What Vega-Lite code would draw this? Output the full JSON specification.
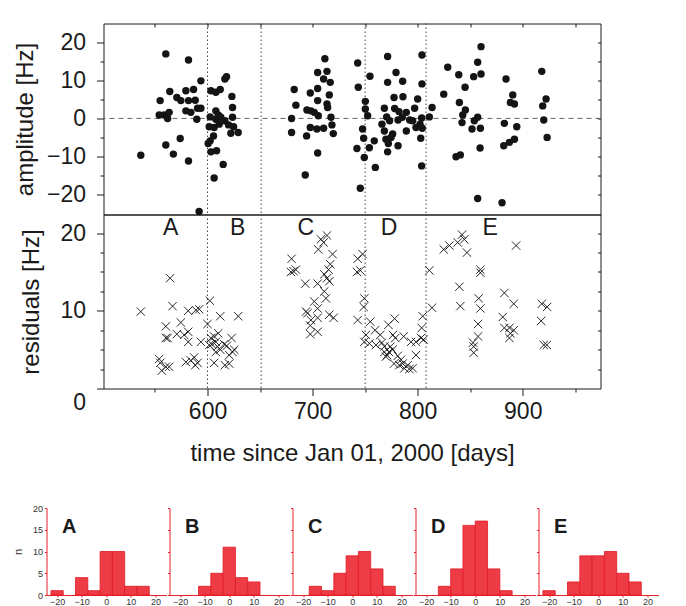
{
"$schema": "https://vega.github.io/schema/vega-lite/v6.json",
"padding": {"left": 11.5, "top": 22.5, "right": 2, "bottom": 0},
"background": "white",
"config": {
  "font": "Liberation Sans",
  "view": {"stroke": null},
  "axis": {"grid": false, "labelFont": "Liberation Sans", "titleFont": "Liberation Sans", "titleFontWeight": "normal", "labelColor": "#1a1a1a", "titleColor": "#1a1a1a", "domainColor": "#1a1a1a", "tickColor": "#1a1a1a", "labelOverlap": false, "labelFlush": false, "labelBound": false}
},
"datasets": {
  "bounds": [{"day": 600}, {"day": 651}, {"day": 750}, {"day": 808}],
  "zones": [{"label": "A", "day": 565, "res": 19.8}, {"label": "B", "day": 628.6, "res": 19.8}, {"label": "C", "day": 693.6, "res": 19.8}, {"label": "D", "day": 772.7, "res": 19.8}, {"label": "E", "day": 869, "res": 19.8}],
  "amp": [
{"day":536.5,"amp":-9.7},{"day":560.3,"amp":17.0},{"day":581.9,"amp":15.4},{"day":564.1,"amp":7.1},{"day":554.9,"amp":4.7},{"day":554,"amp":0.9},{"day":558.7,"amp":0.9},{"day":563.5,"amp":1.6},{"day":562,"amp":0},{"day":570.8,"amp":5.5},{"day":574.6,"amp":4.7},{"day":579.4,"amp":7.3},{"day":586.7,"amp":7.6},{"day":581.9,"amp":4.7},{"day":588.3,"amp":4.8},{"day":579.4,"amp":2.0},{"day":584.1,"amp":1.6},{"day":590.5,"amp":2.7},{"day":593.7,"amp":2.7},{"day":589.8,"amp":-0.2},{"day":593.7,"amp":9.9},{"day":560.3,"amp":-7.0},{"day":574,"amp":-5.3},{"day":567.5,"amp":-9.4},{"day":581.9,"amp":-11.2},{"day":592,"amp":-24.5},
{"day":603.2,"amp":7.3},{"day":607.9,"amp":6.9},{"day":612.1,"amp":7.6},{"day":616.5,"amp":10.4},{"day":618.1,"amp":11.0},{"day":623.2,"amp":5.8},{"day":623.8,"amp":2.9},{"day":607.9,"amp":2.0},{"day":610.2,"amp":0.9},{"day":612.7,"amp":0.3},{"day":602.5,"amp":0.4},{"day":601.6,"amp":-2.2},{"day":606.3,"amp":-2.4},{"day":611.1,"amp":-1.5},{"day":607.9,"amp":-0.2},{"day":616.5,"amp":-0.6},{"day":623.8,"amp":0.3},{"day":620,"amp":-1.7},{"day":624.8,"amp":-2.2},{"day":622.2,"amp":-3.9},{"day":629.2,"amp":-3.7},{"day":605.7,"amp":-4.6},{"day":602.5,"amp":-5.9},{"day":600.6,"amp":-6.6},{"day":603.2,"amp":-8.8},{"day":608.6,"amp":-8.5},{"day":614.9,"amp":-12.1},{"day":606.3,"amp":-15.7},
{"day":682.5,"amp":7.6},{"day":684.1,"amp":3.5},{"day":680,"amp":0},{"day":680,"amp":-3.7},{"day":694.3,"amp":-4.6},{"day":693,"amp":-14.9},{"day":697.8,"amp":6.7},{"day":694.6,"amp":2.2},{"day":698.4,"amp":2.0},{"day":701.6,"amp":1.6},{"day":704.8,"amp":7.9},{"day":704.8,"amp":12.1},{"day":704.8,"amp":4.7},{"day":705.4,"amp":0.7},{"day":697.8,"amp":-2.4},{"day":704.1,"amp":-2.8},{"day":710.5,"amp":-2.6},{"day":704.8,"amp":-9.1},{"day":711.7,"amp":15.7},{"day":713.7,"amp":12.4},{"day":710.5,"amp":10.4},{"day":716.8,"amp":9.5},{"day":715.9,"amp":6.2},{"day":713.7,"amp":3.8},{"day":714.3,"amp":2.9},{"day":717.5,"amp":0.3},{"day":718.4,"amp":-1.7},{"day":719.7,"amp":-4.0},
{"day":742.9,"amp":14.6},{"day":743.5,"amp":8.2},{"day":750.2,"amp":4.5},{"day":750.2,"amp":2.5},{"day":752.4,"amp":0.7},{"day":747.6,"amp":-2.8},{"day":748.6,"amp":-5.2},{"day":742.2,"amp":-7.9},{"day":749.2,"amp":-10.3},{"day":745.4,"amp":-18.4},{"day":754.6,"amp":11.1},{"day":758.7,"amp":-5.9},{"day":754,"amp":-7.7},{"day":759.7,"amp":-12.9},{"day":771.4,"amp":16.3},{"day":771.4,"amp":9.5},{"day":779.4,"amp":12.1},{"day":785.7,"amp":9.8},{"day":768.3,"amp":2.7},{"day":770.5,"amp":0.4},{"day":766,"amp":-1.5},{"day":773.3,"amp":-0.6},{"day":768.3,"amp":-3.3},{"day":769.8,"amp":-5.5},{"day":774.6,"amp":-5.0},{"day":772.1,"amp":-6.6},{"day":777.5,"amp":5.5},{"day":786,"amp":5.7},{"day":778.1,"amp":2.6},{"day":782.2,"amp":1.8},{"day":781.3,"amp":-0.4},{"day":785.4,"amp":0.3},{"day":789.2,"amp":1.6},{"day":792.4,"amp":-0.4},{"day":797.1,"amp":2.7},{"day":800,"amp":5.1},{"day":789.2,"amp":-3.3},{"day":798.4,"amp":-2.4},{"day":804.1,"amp":16.7},{"day":804.1,"amp":9.1},{"day":803.8,"amp":0.1},{"day":811.1,"amp":0.4},{"day":813.7,"amp":2.9},{"day":804.4,"amp":-2.6},{"day":802.9,"amp":-5.2},{"day":803.8,"amp":-12.5},{"day":781.3,"amp":-7.2},{"day":771.4,"amp":-8.8},{"day":776.2,"amp":-4.1},{"day":795.2,"amp":-0.6},{"day":802.2,"amp":-1.5},
{"day":824.8,"amp":6.4},{"day":828.6,"amp":13.5},{"day":839.1,"amp":11.5},{"day":845.1,"amp":8.2},{"day":839.7,"amp":4.2},{"day":845.4,"amp":2.2},{"day":842.9,"amp":0.9},{"day":842.2,"amp":-1.1},{"day":836.5,"amp":-10.1},{"day":840.6,"amp":-9.6},{"day":860.3,"amp":18.9},{"day":857.1,"amp":14.8},{"day":860.3,"amp":11.7},{"day":853.3,"amp":11.0},{"day":857.1,"amp":0.3},{"day":853.9,"amp":-0.6},{"day":851.7,"amp":-2.8},{"day":859.7,"amp":-2.6},{"day":859.4,"amp":-7.8},{"day":857.1,"amp":-21.1},{"day":884.1,"amp":10.4},{"day":890.5,"amp":6.2},{"day":888.3,"amp":4.2},{"day":892.1,"amp":3.8},{"day":882.5,"amp":-1.3},{"day":894.3,"amp":-2.2},{"day":881.9,"amp":-7.2},{"day":887.3,"amp":-6.3},{"day":892.1,"amp":-5.5},{"day":880.3,"amp":-22.2},{"day":918.1,"amp":12.4},{"day":922.2,"amp":5.1},{"day":919,"amp":3.3},{"day":920,"amp":-0.4},{"day":923.2,"amp":-5.0}
  ],
  "res": [
{"day":536.5,"res":9.9},{"day":564.4,"res":14.2},{"day":566.7,"res":10.6},{"day":560.3,"res":8.0},{"day":560.3,"res":6.5},{"day":562,"res":6.5},{"day":574.6,"res":8.5},{"day":570.8,"res":7.0},{"day":577.8,"res":6.9},{"day":581.6,"res":7.3},{"day":581.6,"res":6.0},{"day":581.6,"res":10.0},{"day":588.9,"res":10.1},{"day":592.1,"res":10.2},{"day":554,"res":3.8},{"day":555,"res":3.3},{"day":556.5,"res":2.3},{"day":560.3,"res":2.8},{"day":563.5,"res":2.8},{"day":579.4,"res":3.4},{"day":584.1,"res":3.6},{"day":587.3,"res":4.0},{"day":588.3,"res":3.0},{"day":590.5,"res":3.3},{"day":593.7,"res":6.0},
{"day":602.2,"res":11.3},{"day":600,"res":8.3},{"day":603.2,"res":6.5},{"day":601.6,"res":5.6},{"day":606.3,"res":6.7},{"day":607.9,"res":6.0},{"day":610.2,"res":7.1},{"day":609.5,"res":5.4},{"day":612.1,"res":5.0},{"day":606.3,"res":3.3},{"day":615.9,"res":5.7},{"day":622.9,"res":6.5},{"day":623.8,"res":4.7},{"day":620.6,"res":4.3},{"day":616.5,"res":3.0},{"day":620.6,"res":3.2},{"day":612.1,"res":9.3},{"day":629.2,"res":9.3},{"day":607.9,"res":4.7},{"day":604.1,"res":5.7},{"day":618.4,"res":5.5},{"day":625.4,"res":5.0},
{"day":680,"res":16.7},{"day":679.4,"res":15.0},{"day":684.1,"res":15.3},{"day":681.9,"res":15.1},{"day":693,"res":13.5},{"day":693.7,"res":9.9},{"day":695.2,"res":9.7},{"day":698.4,"res":8.8},{"day":697.8,"res":8.1},{"day":697.8,"res":7.0},{"day":704.8,"res":7.3},{"day":701.6,"res":11.2},{"day":704.8,"res":10.3},{"day":704.8,"res":9.1},{"day":705.4,"res":17.9},{"day":707.9,"res":19.2},{"day":713.7,"res":19.7},{"day":710.5,"res":18.8},{"day":704.8,"res":13.5},{"day":711.1,"res":14.7},{"day":713.7,"res":14.2},{"day":715.2,"res":15.3},{"day":716.8,"res":16.0},{"day":719,"res":17.3},{"day":715.9,"res":13.8},{"day":711.1,"res":12.5},{"day":712.7,"res":11.6},{"day":715.9,"res":9.5},{"day":720,"res":9.1},
{"day":742.9,"res":16.7},{"day":747.6,"res":17.3},{"day":742.2,"res":15.0},{"day":745.4,"res":15.2},{"day":749.2,"res":11.6},{"day":748.6,"res":10.5},{"day":742.9,"res":8.8},{"day":749.2,"res":6.0},{"day":750.8,"res":6.9},{"day":754.9,"res":8.6},{"day":754,"res":5.8},{"day":759.4,"res":7.5},{"day":760.3,"res":5.6},{"day":764.4,"res":6.9},{"day":766,"res":5.9},{"day":768.3,"res":4.7},{"day":769.8,"res":4.1},{"day":772.1,"res":8.2},{"day":774,"res":5.4},{"day":770.8,"res":4.3},{"day":776.5,"res":6.9},{"day":778.1,"res":9.0},{"day":776.2,"res":5.0},{"day":778.7,"res":6.5},{"day":781,"res":4.2},{"day":784.1,"res":3.7},{"day":782.5,"res":3.0},{"day":786.7,"res":6.7},{"day":785.7,"res":3.2},{"day":787.3,"res":2.6},{"day":790.5,"res":3.0},{"day":792.1,"res":2.5},{"day":795.2,"res":2.6},{"day":798.4,"res":6.0},{"day":798.4,"res":4.3},{"day":803.2,"res":6.5},{"day":804.8,"res":9.3},{"day":803.8,"res":7.8},{"day":805.7,"res":6.3},{"day":777.5,"res":3.2},{"day":768.3,"res":5.4},{"day":793.7,"res":6.0},{"day":772.7,"res":4.7},
{"day":811.1,"res":15.2},{"day":813.7,"res":10.4},{"day":824.8,"res":17.9},{"day":830.2,"res":18.4},{"day":838.1,"res":18.8},{"day":842.2,"res":19.8},{"day":844.4,"res":19.2},{"day":846.9,"res":17.5},{"day":839.7,"res":13.1},{"day":840.6,"res":10.6},{"day":859.7,"res":15.3},{"day":859.7,"res":14.9},{"day":858.1,"res":11.6},{"day":859.7,"res":10.3},{"day":857.5,"res":8.3},{"day":857.5,"res":6.7},{"day":852.7,"res":5.9},{"day":853.3,"res":5.4},{"day":853.3,"res":4.6},{"day":893.7,"res":18.4},{"day":882.5,"res":12.3},{"day":891.4,"res":10.9},{"day":881,"res":9.2},{"day":882.5,"res":7.8},{"day":887.3,"res":7.8},{"day":888.3,"res":7.1},{"day":891.4,"res":7.5},{"day":887.3,"res":6.5},{"day":918.1,"res":10.9},{"day":923.2,"res":10.5},{"day":917.5,"res":8.7},{"day":920,"res":5.6},{"day":922.9,"res":5.6}
  ],
  "hist": [
{"panel":"A","lo":-22.5,"hi":-17.5,"n":1},{"panel":"A","lo":-12.5,"hi":-7.5,"n":4},{"panel":"A","lo":-7.5,"hi":-2.5,"n":1},{"panel":"A","lo":-2.5,"hi":2.5,"n":10},{"panel":"A","lo":2.5,"hi":7.5,"n":10},{"panel":"A","lo":7.5,"hi":12.5,"n":2},{"panel":"A","lo":12.5,"hi":17.5,"n":2},
{"panel":"B","lo":-12.5,"hi":-7.5,"n":2},{"panel":"B","lo":-7.5,"hi":-2.5,"n":5},{"panel":"B","lo":-2.5,"hi":2.5,"n":11},{"panel":"B","lo":2.5,"hi":7.5,"n":4},{"panel":"B","lo":7.5,"hi":12.5,"n":3},
{"panel":"C","lo":-17.5,"hi":-12.5,"n":2},{"panel":"C","lo":-12.5,"hi":-7.5,"n":1},{"panel":"C","lo":-7.5,"hi":-2.5,"n":5},{"panel":"C","lo":-2.5,"hi":2.5,"n":9},{"panel":"C","lo":2.5,"hi":7.5,"n":10},{"panel":"C","lo":7.5,"hi":12.5,"n":6},{"panel":"C","lo":12.5,"hi":17.5,"n":2},
{"panel":"D","lo":-15,"hi":-10,"n":2},{"panel":"D","lo":-10,"hi":-5,"n":6},{"panel":"D","lo":-5,"hi":0,"n":16},{"panel":"D","lo":0,"hi":5,"n":17},{"panel":"D","lo":5,"hi":10,"n":6},{"panel":"D","lo":10,"hi":15,"n":1},
{"panel":"E","lo":-22.5,"hi":-17.5,"n":1},{"panel":"E","lo":-12.5,"hi":-7.5,"n":3},{"panel":"E","lo":-7.5,"hi":-2.5,"n":9},{"panel":"E","lo":-2.5,"hi":2.5,"n":9},{"panel":"E","lo":2.5,"hi":7.5,"n":10},{"panel":"E","lo":7.5,"hi":12.5,"n":5},{"panel":"E","lo":12.5,"hi":17.5,"n":3}
  ]
},
"spacing": 37.5,
"vconcat": [
  {
    "spacing": 0,
    "bounds": "flush",
    "hconcat": [
      {"width": 57, "height": 10, "data": {"values": []}, "mark": {"type": "point", "opacity": 0}},
      {
        "spacing": 0,
        "bounds": "flush",
        "vconcat": [
          {
            "width": 497, "height": 191,
            "view": {"stroke": "#1a1a1a", "strokeWidth": 1},
            "resolve": {"axis": {"x": "independent", "y": "independent"}},
            "layer": [
              {"data": {"name": "bounds"}, "mark": {"type": "rule", "color": "#444", "strokeDash": [1.5, 2.5], "strokeWidth": 1},
               "encoding": {"x": {"field": "day", "type": "quantitative", "scale": {"domain": [501, 974], "nice": false, "zero": false}, "axis": null}}},
              {"data": {"values": [{"amp": 0}]}, "mark": {"type": "rule", "color": "#666", "strokeDash": [5, 4], "strokeWidth": 1},
               "encoding": {"y": {"field": "amp", "type": "quantitative", "scale": {"domain": [-25.3, 25], "nice": false, "zero": false}, "axis": null}}},
              {"data": {"name": "amp"}, "mark": {"type": "circle", "color": "#141414", "size": 55, "opacity": 1},
               "encoding": {
                 "x": {"field": "day", "type": "quantitative", "scale": {"domain": [501, 974], "nice": false, "zero": false},
                       "axis": {"orient": "top", "values": [550, 600, 650, 700, 750, 800, 850, 900, 950], "labels": false, "title": null, "domain": false, "tickSize": -3.5}},
                 "y": {"field": "amp", "type": "quantitative", "scale": {"domain": [-25.3, 25], "nice": false, "zero": false},
                       "axis": {"orient": "left", "values": [-20, -15, -10, -5, 0, 5, 10, 15, 20], "labelExpr": "datum.value % 10 == 0 ? datum.label : ''",
                                "tickSize": {"condition": {"test": "datum.value % 10 == 0", "value": 7}, "value": 3.5},
                                "labelFontSize": 23, "labelPadding": 11, "title": "amplitude [Hz]", "titleFontSize": 24, "titlePadding": 8.5, "domain": false}}
               }},
              {"data": {"name": "amp"}, "mark": {"type": "circle", "opacity": 0, "size": 1},
               "encoding": {
                 "x": {"field": "day", "type": "quantitative", "scale": {"domain": [501, 974], "nice": false, "zero": false}, "axis": null},
                 "y": {"field": "amp", "type": "quantitative", "scale": {"domain": [-25.3, 25], "nice": false, "zero": false},
                       "axis": {"orient": "right", "values": [-20, -15, -10, -5, 0, 5, 10, 15, 20], "labels": false, "title": null, "domain": false, "tickSize": -3}}
               }}
            ]
          },
          {
            "width": 497, "height": 174,
            "view": {"stroke": "#1a1a1a", "strokeWidth": 1},
            "resolve": {"axis": {"x": "independent", "y": "independent"}},
            "layer": [
              {"data": {"name": "bounds"}, "mark": {"type": "rule", "color": "#444", "strokeDash": [1.5, 2.5], "strokeWidth": 1},
               "encoding": {"x": {"field": "day", "type": "quantitative", "scale": {"domain": [501, 974], "nice": false, "zero": false}, "axis": null}}},
              {"data": {"name": "res"}, "mark": {"type": "point", "shape": "M-1,-1L1,1M-1,1L1,-1", "filled": false, "stroke": "#111", "strokeWidth": 0.9, "size": 70, "opacity": 1},
               "encoding": {
                 "x": {"field": "day", "type": "quantitative", "scale": {"domain": [501, 974], "nice": false, "zero": false},
                       "axis": {"orient": "bottom", "values": [550, 600, 650, 700, 750, 800, 850, 900, 950], "labelExpr": "datum.value % 100 == 0 ? datum.label : ''",
                                "tickSize": {"condition": {"test": "datum.value % 100 == 0", "value": 7}, "value": 3.5},
                                "labelFontSize": 23, "labelPadding": 4.7, "title": "time since Jan 01, 2000 [days]", "titleFontSize": 24, "titlePadding": 18, "domain": false}},
                 "y": {"field": "res", "type": "quantitative", "scale": {"domain": [0, 22.4], "nice": false, "zero": false},
                       "axis": {"orient": "left", "values": [0, 2.5, 5, 7.5, 10, 12.5, 15, 17.5, 20], "labelExpr": "datum.value % 10 == 0 ? datum.label : ''",
                                "tickSize": {"condition": {"test": "datum.value % 10 == 0", "value": 7}, "value": 3.5},
                                "labelBaseline": {"condition": {"test": "datum.value == 0", "value": "top"}, "value": "middle"},
                                "labelOffset": {"condition": {"test": "datum.value == 0", "value": 3}, "value": 0},
                                "labelFontSize": 23, "labelPadding": 11, "title": "residuals [Hz]", "titleFontSize": 24, "titlePadding": 16.2, "domain": false}}
               }},
              {"data": {"name": "res"}, "mark": {"type": "point", "opacity": 0, "size": 1},
               "encoding": {
                 "x": {"field": "day", "type": "quantitative", "scale": {"domain": [501, 974], "nice": false, "zero": false}, "axis": null},
                 "y": {"field": "res", "type": "quantitative", "scale": {"domain": [0, 22.4], "nice": false, "zero": false},
                       "axis": {"orient": "right", "values": [2.5, 5, 7.5, 10, 12.5, 15, 17.5, 20], "labels": false, "title": null, "domain": false, "tickSize": -3}}
               }},
              {"data": {"name": "zones"}, "mark": {"type": "text", "fontSize": 23, "color": "#1a1a1a", "align": "center", "baseline": "alphabetic"},
               "encoding": {
                 "x": {"field": "day", "type": "quantitative", "scale": {"domain": [501, 974], "nice": false, "zero": false}, "axis": null},
                 "y": {"field": "res", "type": "quantitative", "scale": {"domain": [0, 22.4], "nice": false, "zero": false}, "axis": null},
                 "text": {"field": "label"}
               }}
            ]
          }
        ]
      }
    ]
  },
  {
    "spacing": 0,
    "hconcat": [
      {
        "width": 120, "height": 87, "data": {"name": "hist"},
        "transform": [{"filter": "datum.panel == 'A'"}],
        "resolve": {"axis": {"x": "independent", "y": "independent"}},
        "layer": [
          {"mark": {"type": "rect", "fill": "#ee3c46", "stroke": "#e01b25", "strokeWidth": 0.8},
           "encoding": {
             "x": {"field": "lo", "type": "quantitative", "scale": {"domain": [-24.3, 24.5], "nice": false, "zero": false},
                   "axis": {"values": [-20, -10, 0, 10, 20], "title": null, "labelFontSize": 9, "labelColor": "#333", "tickColor": "#e8202a", "domainColor": "#e8202a", "tickSize": 2, "labelPadding": 0, "labelOverlap": false}},
             "x2": {"field": "hi"},
             "y": {"field": "n", "type": "quantitative", "scale": {"domain": [0, 20], "nice": false},
                   "axis": {"values": [0, 5, 10, 15, 20], "title": "n", "titleFontSize": 11, "titlePadding": 9.1, "titleColor": "#333", "labelFontSize": 9, "labelColor": "#333", "labelPadding": 2, "tickSize": 2, "tickColor": "#e8202a", "domainColor": "#e8202a", "labelOverlap": false}},
             "y2": {"datum": 0}
           }},
          {"data": {"values": [{"label": "A"}]}, "mark": {"type": "text", "fontSize": 20, "fontWeight": "bold", "color": "#1a1a1a", "align": "left", "baseline": "alphabetic"},
           "encoding": {"x": {"datum": -18, "type": "quantitative", "axis": null}, "y": {"datum": 14.2, "type": "quantitative", "axis": null}, "text": {"field": "label"}}}
        ]
      },
      {
        "width": 120, "height": 87, "data": {"name": "hist"},
        "transform": [{"filter": "datum.panel == 'B'"}],
        "resolve": {"axis": {"x": "independent", "y": "independent"}},
        "layer": [
          {"mark": {"type": "rect", "fill": "#ee3c46", "stroke": "#e01b25", "strokeWidth": 0.8},
           "encoding": {
             "x": {"field": "lo", "type": "quantitative", "scale": {"domain": [-24.3, 24.5], "nice": false, "zero": false},
                   "axis": {"values": [-20, -10, 0, 10, 20], "title": null, "labelFontSize": 9, "labelColor": "#333", "tickColor": "#e8202a", "domainColor": "#e8202a", "tickSize": 2, "labelPadding": 0, "labelOverlap": false}},
             "x2": {"field": "hi"},
             "y": {"field": "n", "type": "quantitative", "scale": {"domain": [0, 20], "nice": false},
                   "axis": {"values": [0, 5, 10, 15, 20], "labels": false, "title": null, "tickSize": 2, "tickColor": "#e8202a", "domainColor": "#e8202a"}},
             "y2": {"datum": 0}
           }},
          {"data": {"values": [{"label": "B"}]}, "mark": {"type": "text", "fontSize": 20, "fontWeight": "bold", "color": "#1a1a1a", "align": "left", "baseline": "alphabetic"},
           "encoding": {"x": {"datum": -18, "type": "quantitative", "axis": null}, "y": {"datum": 14.2, "type": "quantitative", "axis": null}, "text": {"field": "label"}}}
        ]
      },
      {
        "width": 120, "height": 87, "data": {"name": "hist"},
        "transform": [{"filter": "datum.panel == 'C'"}],
        "resolve": {"axis": {"x": "independent", "y": "independent"}},
        "layer": [
          {"mark": {"type": "rect", "fill": "#ee3c46", "stroke": "#e01b25", "strokeWidth": 0.8},
           "encoding": {
             "x": {"field": "lo", "type": "quantitative", "scale": {"domain": [-24.3, 24.5], "nice": false, "zero": false},
                   "axis": {"values": [-20, -10, 0, 10, 20], "title": null, "labelFontSize": 9, "labelColor": "#333", "tickColor": "#e8202a", "domainColor": "#e8202a", "tickSize": 2, "labelPadding": 0, "labelOverlap": false}},
             "x2": {"field": "hi"},
             "y": {"field": "n", "type": "quantitative", "scale": {"domain": [0, 20], "nice": false},
                   "axis": {"values": [0, 5, 10, 15, 20], "labels": false, "title": null, "tickSize": 2, "tickColor": "#e8202a", "domainColor": "#e8202a"}},
             "y2": {"datum": 0}
           }},
          {"data": {"values": [{"label": "C"}]}, "mark": {"type": "text", "fontSize": 20, "fontWeight": "bold", "color": "#1a1a1a", "align": "left", "baseline": "alphabetic"},
           "encoding": {"x": {"datum": -18, "type": "quantitative", "axis": null}, "y": {"datum": 14.2, "type": "quantitative", "axis": null}, "text": {"field": "label"}}}
        ]
      },
      {
        "width": 120, "height": 87, "data": {"name": "hist"},
        "transform": [{"filter": "datum.panel == 'D'"}],
        "resolve": {"axis": {"x": "independent", "y": "independent"}},
        "layer": [
          {"mark": {"type": "rect", "fill": "#ee3c46", "stroke": "#e01b25", "strokeWidth": 0.8},
           "encoding": {
             "x": {"field": "lo", "type": "quantitative", "scale": {"domain": [-24.3, 24.5], "nice": false, "zero": false},
                   "axis": {"values": [-20, -10, 0, 10, 20], "title": null, "labelFontSize": 9, "labelColor": "#333", "tickColor": "#e8202a", "domainColor": "#e8202a", "tickSize": 2, "labelPadding": 0, "labelOverlap": false}},
             "x2": {"field": "hi"},
             "y": {"field": "n", "type": "quantitative", "scale": {"domain": [0, 20], "nice": false},
                   "axis": {"values": [0, 5, 10, 15, 20], "labels": false, "title": null, "tickSize": 2, "tickColor": "#e8202a", "domainColor": "#e8202a"}},
             "y2": {"datum": 0}
           }},
          {"data": {"values": [{"label": "D"}]}, "mark": {"type": "text", "fontSize": 20, "fontWeight": "bold", "color": "#1a1a1a", "align": "left", "baseline": "alphabetic"},
           "encoding": {"x": {"datum": -18, "type": "quantitative", "axis": null}, "y": {"datum": 14.2, "type": "quantitative", "axis": null}, "text": {"field": "label"}}}
        ]
      },
      {
        "width": 120, "height": 87, "data": {"name": "hist"},
        "transform": [{"filter": "datum.panel == 'E'"}],
        "resolve": {"axis": {"x": "independent", "y": "independent"}},
        "layer": [
          {"mark": {"type": "rect", "fill": "#ee3c46", "stroke": "#e01b25", "strokeWidth": 0.8},
           "encoding": {
             "x": {"field": "lo", "type": "quantitative", "scale": {"domain": [-24.3, 24.5], "nice": false, "zero": false},
                   "axis": {"values": [-20, -10, 0, 10, 20], "title": null, "labelFontSize": 9, "labelColor": "#333", "tickColor": "#e8202a", "domainColor": "#e8202a", "tickSize": 2, "labelPadding": 0, "labelOverlap": false}},
             "x2": {"field": "hi"},
             "y": {"field": "n", "type": "quantitative", "scale": {"domain": [0, 20], "nice": false},
                   "axis": {"values": [0, 5, 10, 15, 20], "labels": false, "title": null, "tickSize": 2, "tickColor": "#e8202a", "domainColor": "#e8202a"}},
             "y2": {"datum": 0}
           }},
          {"data": {"values": [{"label": "E"}]}, "mark": {"type": "text", "fontSize": 20, "fontWeight": "bold", "color": "#1a1a1a", "align": "left", "baseline": "alphabetic"},
           "encoding": {"x": {"datum": -18, "type": "quantitative", "axis": null}, "y": {"datum": 14.2, "type": "quantitative", "axis": null}, "text": {"field": "label"}}}
        ]
      }
    ]
  }
]
}
